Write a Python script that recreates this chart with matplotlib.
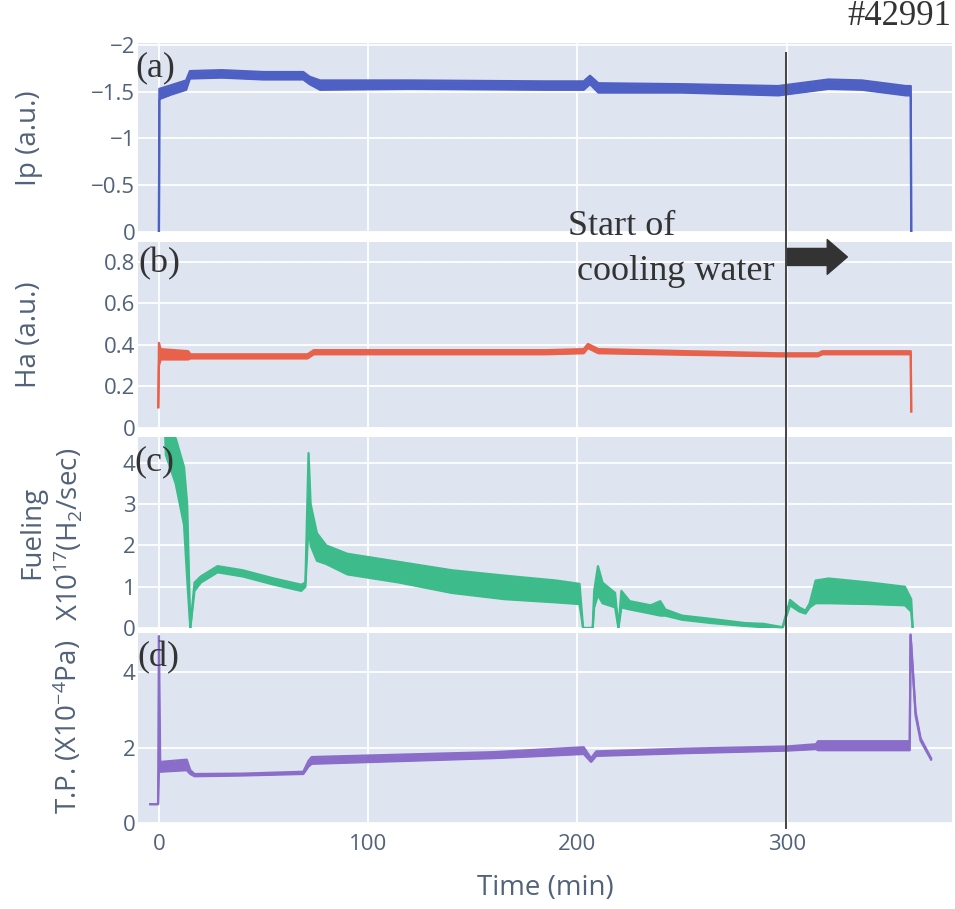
import matplotlib
matplotlib.use("Agg")
import matplotlib.pyplot as plt
from matplotlib.transforms import blended_transform_factory
from matplotlib.lines import Line2D

plt.rcParams['font.family'] = ['Open Sans', 'DejaVu Sans']
plt.rcParams['mathtext.fontset'] = 'custom'
plt.rcParams['mathtext.rm'] = 'Open Sans'
plt.rcParams['mathtext.it'] = 'Open Sans:italic'
plt.rcParams['mathtext.bf'] = 'Open Sans:bold'

# Ip (a.u.) - band (lower / upper edge)
t_ip = [0, 0.2, 6, 13, 14.8, 30, 50, 69, 72, 77, 120, 185, 203, 206, 210, 250, 296, 320, 336, 357, 359.3, 359.5]
ip_lo = [0, -1.42, -1.47, -1.52, -1.64, -1.65, -1.63, -1.63, -1.58, -1.52, -1.53, -1.52, -1.52, -1.58, -1.49,
         -1.49, -1.46, -1.53, -1.52, -1.46, -1.46, 0]
ip_hi = [0, -1.53, -1.57, -1.62, -1.72, -1.73, -1.71, -1.71, -1.66, -1.62, -1.62, -1.61, -1.61, -1.67, -1.59,
         -1.58, -1.56, -1.63, -1.62, -1.56, -1.56, 0]

# Ha (a.u.)
t_ha = [-0.3, 0, 0.8, 14, 15, 71, 74, 185, 203, 205, 210, 296, 315, 317, 359.3, 359.5]
ha_lo = [0.10, 0.30, 0.33, 0.33, 0.335, 0.335, 0.355, 0.355, 0.36, 0.385, 0.36, 0.345, 0.345, 0.355, 0.355, 0.08]
ha_hi = [0.10, 0.41, 0.38, 0.37, 0.355, 0.355, 0.375, 0.375, 0.38, 0.405, 0.38, 0.36, 0.36, 0.37, 0.37, 0.08]

# Fueling X10^17 (H2/sec)
t_fu = [3.0, 3.3, 8, 12, 13.5, 15, 17, 20, 28, 40, 55, 68, 70, 71.5, 72.5, 75.5, 80, 90, 115, 140, 165, 190,
        201, 202.7, 207.3, 208, 209.8, 212, 218, 219.6, 221, 225, 235, 239.6, 242, 250, 264, 280, 289, 298,
        301.6, 306, 309, 311, 313.8, 320, 340, 356.5, 359.5, 360.2]
fu_lo = [4.7, 4.2, 3.5, 2.5, 1.2, 0, 0.9, 1.1, 1.35, 1.25, 1.05, 0.9, 1.0, 2.5, 2.0, 1.63, 1.55, 1.3, 1.1, 0.85,
         0.7, 0.62, 0.58, 0, 0, 0.5, 0.8, 0.6, 0.5, 0, 0.5, 0.45, 0.35, 0.3, 0.3, 0.2, 0.12, 0.05, 0.02, 0,
         0.55, 0.4, 0.35, 0.5, 0.6, 0.6, 0.58, 0.55, 0.4, 0]
fu_hi = [4.7, 4.7, 4.6, 3.9, 3.0, 0, 1.1, 1.25, 1.5, 1.4, 1.2, 1.05, 1.1, 4.24, 3.0, 2.3, 2.0, 1.8, 1.6, 1.4,
         1.27, 1.15, 1.07, 0, 0, 0.9, 1.5, 1.1, 0.85, 0, 0.9, 0.65, 0.55, 0.65, 0.45, 0.3, 0.22, 0.12, 0.1, 0.02,
         0.68, 0.5, 0.42, 0.6, 1.15, 1.2, 1.1, 1.0, 0.7, 0]

# T.P. (X10^-4 Pa)
t_tp = [-4.1, -0.4, 0.0, 0.6, 13.3, 15, 17, 40, 69, 71.5, 73, 120, 160, 203, 206.5, 209, 250, 300, 314, 315,
        358.8, 359.2, 361.6, 364, 369]
tp_lo = [0.5, 0.5, 1.4, 1.36, 1.4, 1.3, 1.24, 1.26, 1.3, 1.5, 1.57, 1.65, 1.72, 1.83, 1.62, 1.78, 1.85, 1.92,
         1.96, 1.93, 1.93, 4.98, 2.85, 2.18, 1.68]
tp_hi = [0.5, 0.5, 4.96, 1.62, 1.68, 1.4, 1.3, 1.31, 1.36, 1.65, 1.75, 1.82, 1.88, 2.01, 1.72, 1.9, 1.97, 2.03,
         2.09, 2.17, 2.17, 5.0, 2.95, 2.25, 1.72]

x_ticks = [0, 100, 200, 300]
ip_ticks = [0, -0.5, -1, -1.5, -2]
ip_ticklabels = ['0', '\u22120.5', '\u22121', '\u22121.5', '\u22122']
ha_ticks = [0, 0.2, 0.4, 0.6, 0.8]
fu_ticks = [0, 1, 2, 3, 4]
tp_ticks = [0, 2, 4]

blue = '#4e60c4'
red = '#e8614b'
green = '#3dbb8b'
purple = '#8a6dc9'
bg = '#dee5f0'
txt = '#52627a'
serif = ['Liberation Serif', 'DejaVu Serif']

W, H = 955, 909
fig = plt.figure(figsize=(W / 100, H / 100), dpi=100)

left, right = 138, 952
rows = [(43, 232), (242, 428), (437, 628), (633, 823)]
axes = []
for top, bot in rows:
    ax = fig.add_axes([left / W, 1 - bot / H, (right - left) / W, (bot - top) / H])
    ax.set_facecolor(bg)
    for s in ax.spines.values():
        s.set_visible(False)
    ax.set_xlim(-10, 379)
    ax.set_xticks(x_ticks)
    ax.grid(True, color='white', lw=1.3)
    ax.set_axisbelow(True)
    ax.tick_params(length=0, labelsize=16, labelcolor=txt, pad=2)
    axes.append(ax)

ax_a, ax_b, ax_c, ax_d = axes
for ax in axes[:3]:
    ax.tick_params(labelbottom=False)
ax_d.tick_params(axis='x', pad=8)

series = [(ax_a, t_ip, ip_lo, ip_hi, blue), (ax_b, t_ha, ha_lo, ha_hi, red),
          (ax_c, t_fu, fu_lo, fu_hi, green), (ax_d, t_tp, tp_lo, tp_hi, purple)]
for ax, t, lo, hi, c in series:
    ax.fill_between(t, lo, hi, color=c, lw=0)
    ax.plot(t, lo, color=c, lw=1.6)
    ax.plot(t, hi, color=c, lw=1.6)

ax_a.set_ylim(0, -2.02)
ax_a.set_yticks(ip_ticks)
ax_a.set_yticklabels(ip_ticklabels)
ax_b.set_ylim(0, 0.896)
ax_b.set_yticks(ha_ticks)
ax_b.set_yticklabels(['0', '0.2', '0.4', '0.6', '0.8'])
ax_c.set_ylim(0, 4.63)
ax_c.set_yticks(fu_ticks)
ax_d.set_ylim(0, 5.04)
ax_d.set_yticks(tp_ticks)
ax_d.set_xticklabels(['0', '100', '200', '300'])

# axis titles
def ftext(x, y, s, **kw):
    fig.text(x / W, 1 - y / H, s, **kw)

ftext(29, 138, 'Ip (a.u.)', rotation=90, ha='center', va='center', fontsize=20, color=txt)
ftext(29, 335, 'Ha (a.u.)', rotation=90, ha='center', va='center', fontsize=20, color=txt)
ftext(32, 532, 'Fueling', rotation=90, ha='center', va='center', fontsize=20, color=txt)
ftext(68, 534, 'X10$^{\\mathrm{17}}$(H$_{\\mathrm{2}}$/sec)', rotation=90, ha='center', va='center',
      fontsize=20, color=txt)
ftext(68, 727, 'T.P. (X10$^{\\mathrm{-4}}$Pa)', rotation=90, ha='center', va='center', fontsize=20, color=txt)
ftext(545, 888, 'Time (min)', ha='center', va='center', fontsize=20, color=txt)

# panel letters and notes
for s, (x, y) in zip(['(a)', '(b)', '(c)', '(d)'], [(155, 68), (159, 264), (154, 462), (158, 658)]):
    ftext(x, y, s, ha='center', va='center', fontsize=26, family=serif, color='#333333')
ftext(951, 25, '#42991', ha='right', va='baseline', fontsize=25, family=serif, color='#333333')
ftext(568, 235, 'Start of', ha='left', va='baseline', fontsize=26, family=serif, color='#333333')
ftext(577, 280, 'cooling water', ha='left', va='baseline', fontsize=26, family=serif, color='#333333')

# start of cooling water marker
tr = blended_transform_factory(ax_d.transData, fig.transFigure)
fig.add_artist(Line2D([299.5, 299.5], [1 - 53 / H, 1 - 828 / H], transform=tr, color='#444444', lw=1.4))
ax_b.annotate('', xy=(329, 0.824), xytext=(300, 0.824),
              arrowprops=dict(arrowstyle='simple,head_length=0.58,head_width=1.0,tail_width=0.49',
                              mutation_scale=25, color='#333333', shrinkA=0, shrinkB=0))

fig.savefig('out.png', dpi=100, facecolor='white')
